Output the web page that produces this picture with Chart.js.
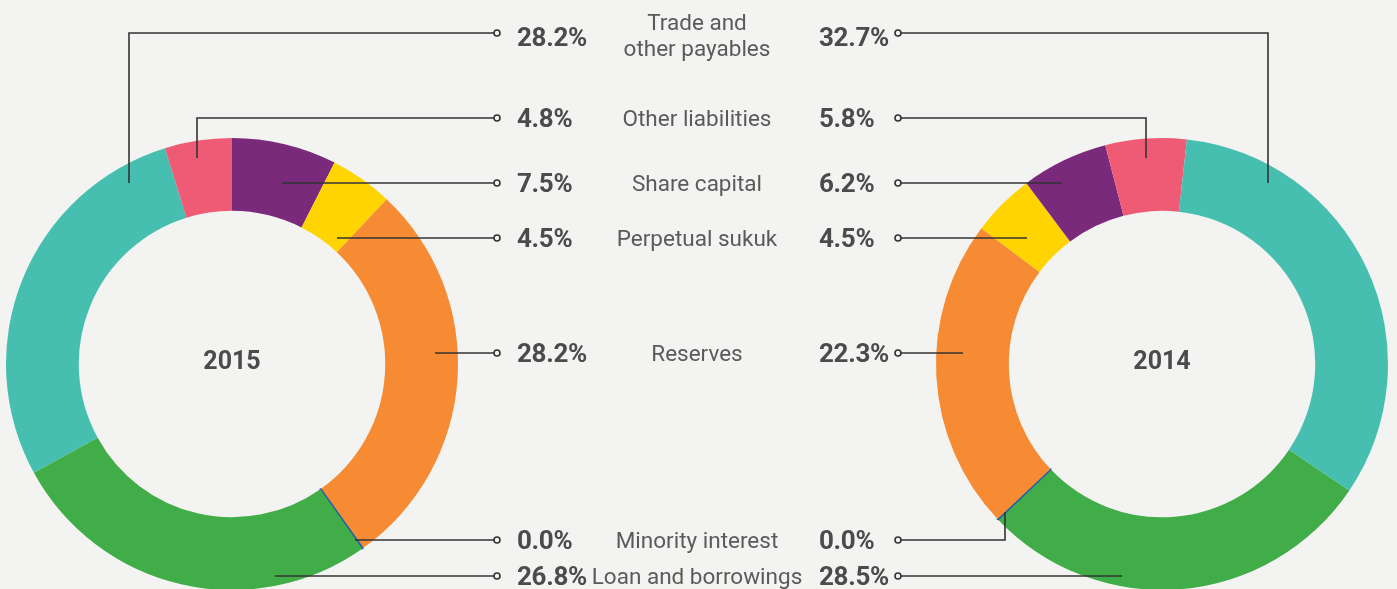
<!DOCTYPE html>
<html>
<head>
<meta charset="utf-8">
<script src="https://cdn.jsdelivr.net/npm/chart.js@4"></script>
<style>
  html, body { margin: 0; padding: 0; background: #f3f3f1; overflow: hidden; }
  body { width: 1397px; height: 589px; position: relative; font-family: Roboto, "Open Sans", sans-serif; }
  canvas { position: absolute; top: 0; }
  .pct { position: absolute; font-weight: 700; font-size: 26px; color: #4b4b4b; line-height: 28px; transform: translateY(-50%); white-space: nowrap; letter-spacing: -0.3px; }
  .lbl { position: absolute; font-size: 22.5px; color: #5a5a5a; line-height: 26px; transform: translate(-50%, -50%); text-align: center; white-space: nowrap; }
  .year { position: absolute; font-weight: 700; font-size: 25px; color: #4b4b4b; transform: translate(-50%, -50%); }
</style>
</head>
<body>
<canvas id="chart2015" width="698" height="600" style="left:0"></canvas>
<canvas id="chart2014" width="699" height="600" style="left:698px"></canvas>
<div id="labels"></div>

<script>
var categories = ["Trade and other payables", "Other liabilities", "Share capital", "Perpetual sukuk", "Reserves", "Minority interest", "Loan and borrowings"];
var values2015 = [28.2, 4.8, 7.5, 4.5, 28.2, 0.04, 26.8];
var values2014 = [32.7, 5.8, 6.2, 4.5, 22.3, 0.04, 28.5];
var colors = ["#46bfb0", "#ef5b74", "#7a2a7a", "#ffd400", "#f68b33", "#1f5fad", "#41ad49"];

// vertical row of each category in the middle column
var rowY = [37, 118, 183, 238, 353, 540, 576];

function total(arr) { return arr.reduce(function (a, b) { return a + b; }, 0); }

// leader lines, page coordinates: dot first, then the bends
var leaders2015 = [
  [[497, 33], [129, 33], [129, 183]],
  [[497, 118], [197, 118], [197, 158]],
  [[497, 183], [282, 183]],
  [[497, 238], [337, 238]],
  [[497, 353], [435, 353]],
  [[497, 540], [355, 540]],
  [[497, 576], [275, 576]]
];
var leaders2014 = [
  [[898, 33], [1268, 33], [1268, 183]],
  [[898, 118], [1146, 118], [1146, 158]],
  [[898, 183], [1062, 183]],
  [[898, 238], [1027, 238]],
  [[898, 353], [963, 353]],
  [[898, 540], [1005, 540], [1005, 512]],
  [[898, 576], [1122, 576]]
];

var leaderPlugin = {
  id: "leaders",
  afterDraw: function (chart, args, opts) {
    var ctx = chart.ctx;
    ctx.save();
    ctx.strokeStyle = "#333";
    ctx.lineWidth = 1.6;
    opts.lines.forEach(function (pts) {
      ctx.beginPath();
      pts.forEach(function (p, i) {
        var x = p[0] - opts.offsetX, y = p[1];
        if (i === 0) ctx.moveTo(x + (opts.offsetX ? 3 : -3), y); else ctx.lineTo(x, y);
      });
      ctx.stroke();
      ctx.beginPath();
      ctx.arc(pts[0][0] - opts.offsetX, pts[0][1], 3, 0, Math.PI * 2);
      ctx.fillStyle = "#f3f3f1";
      ctx.fill();
      ctx.stroke();
    });
    ctx.restore();
  }
};

function borderWidths(labels) {
  return labels.map(function (c) { return c === "Minority interest" ? 2 : 0; });
}

function makeChart(id, labels, data, cols, rotation, padding, lines, offsetX) {
  return new Chart(id, {
    type: "doughnut",
    data: {
      labels: labels,
      datasets: [{
        data: data,
        backgroundColor: cols,
        borderColor: cols,
        borderWidth: borderWidths(labels),
        hoverOffset: 0
      }]
    },
    options: {
      responsive: false,
      animation: false,
      cutout: "67.8%",
      rotation: rotation,
      layout: { padding: padding },
      plugins: {
        legend: { display: false },
        tooltip: { enabled: false },
        leaders: { lines: lines, offsetX: offsetX }
      }
    },
    plugins: [leaderPlugin]
  });
}

// 2015 runs clockwise from the top starting with share capital
var rot2015 = -(values2015[0] + values2015[1]) / total(values2015) * 360;
makeChart("chart2015", categories, values2015, colors, rot2015,
  { left: 5, right: 239, top: 137, bottom: 9 }, leaders2015, 0);

// 2014 runs the other way round, so feed it reversed
var rev = function (a) { return a.slice().reverse(); };
makeChart("chart2014", rev(categories), rev(values2014), rev(colors), 124,
  { left: 237, right: 8, top: 137, bottom: 9 }, leaders2014, 698);

// text
var box = document.getElementById("labels");
function add(cls, text, x, y) {
  var d = document.createElement("div");
  d.className = cls;
  d.innerHTML = text;
  d.style.left = x + "px";
  d.style.top = y + "px";
  box.appendChild(d);
}
categories.forEach(function (c, i) {
  var name = c === "Trade and other payables" ? "Trade and<br>other payables" : c;
  add("lbl", name, 697, i === 0 ? 35 : rowY[i]);
  add("pct", values2015[i].toFixed(1) + "%", 517, rowY[i]);
  add("pct", values2014[i].toFixed(1) + "%", 819, rowY[i]);
});
add("year", "2015", 232, 360);
add("year", "2014", 1162, 360);
</script>
</body>
</html>
